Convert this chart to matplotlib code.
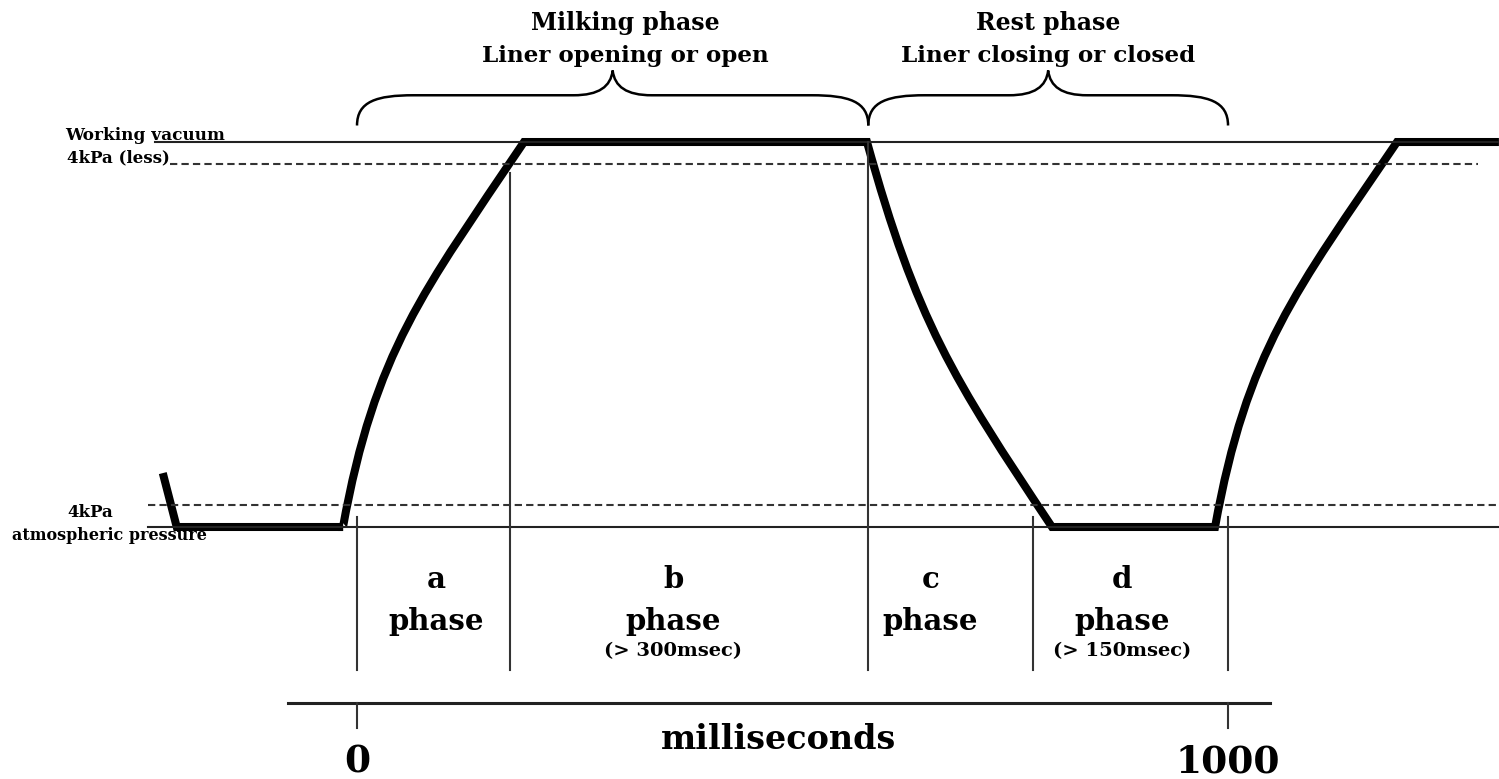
import numpy as np
import matplotlib
matplotlib.use("Agg")
import matplotlib.pyplot as plt
from matplotlib.path import Path
from matplotlib.patches import PathPatch

plt.rcParams['font.family'] = ['DejaVu Serif']
plt.rcParams['font.weight'] = 'bold'

# pulsation curve (time in ms, vacuum in kPa)
lead_ms = [-223, -207, -16]
lead_kpa = [9.8, 0, 0]
# each transition: start point, two bezier control points, end point
rise_a_ms = [-16.1, 20.7, 75.8, 191.7]
rise_a_kpa = [0, 32.0, 42.7, 70]
fall_c_ms = [585.5, 642.9, 683.1, 797.9]
fall_c_kpa = [70, 37.3, 27.3, 0]
rise_d_ms = [985.1, 1021.8, 1076.9, 1194.0]
rise_d_kpa = [0, 32.0, 42.7, 70]
end_ms = 1311

# reference levels
working_vacuum = 70
vacuum_less = 66
atm_plus = 4
atmospheric = 0

# phase boundaries (ms) and labels
bounds_ms = [0, 176, 587, 776, 1000]
bounds_top = [1.8, 64.4, 70, 1.8, 1.8]
phase_letters = ['a', 'b', 'c', 'd']
phase_x = [91, 363, 658, 878]
phase_notes = ['', '(> 300msec)', '', '(> 150msec)']

# braces over the cycle
brace_spans = [(0, 587), (587, 1000)]
brace_text_x = [308, 793]
brace_titles = ['Milking phase', 'Rest phase']
brace_subtitles = ['Liner opening or open', 'Liner closing or closed']

# time axis
axis_ms = (-79, 1048)
tick_ms = [0, 1000]
tick_labels = ['0', '1000']

fig = plt.figure(figsize=(14.99, 7.79), dpi=100)
ax = fig.add_axes([0, 0, 1, 1])
ax.set_xlim(-409.9, 1311.1)
ax.set_ylim(-45.82, 95.82)
ax.axis('off')

# level lines
ax.plot([-232, 1311], [working_vacuum] * 2, color='#222222', lw=1.5)
ax.plot([-215, 1287], [vacuum_less] * 2, color='#333333', lw=1.5, ls=(0, (3.5, 2)))
ax.plot([-240, 1311], [atm_plus] * 2, color='#333333', lw=1.5, ls=(0, (3.5, 2)))
ax.plot([-240, 1311], [atmospheric] * 2, color='#222222', lw=1.5)

# phase dividers
for xb, top in zip(bounds_ms, bounds_top):
    ax.plot([xb, xb], [top, -26], color='#333333', lw=1.5)

# the pressure curve: straight flats joined by bezier transitions
verts = list(zip(lead_ms, lead_kpa))
codes = [Path.MOVETO] + [Path.LINETO] * (len(lead_ms) - 1)
for xs, ys in [(rise_a_ms, rise_a_kpa), (fall_c_ms, fall_c_kpa), (rise_d_ms, rise_d_kpa)]:
    verts.append((xs[0], ys[0]))
    codes.append(Path.LINETO)
    verts += list(zip(xs[1:], ys[1:]))
    codes += [Path.CURVE4] * 3
verts.append((end_ms, working_vacuum))
codes.append(Path.LINETO)
ax.add_patch(PathPatch(Path(verts, codes), fill=False, lw=5.8, color='black',
                       joinstyle='miter', capstyle='butt'))

# left labels
ax.text(-335, 71.2, 'Working vacuum', fontsize=12.2, ha='left', va='center')
ax.text(-333, 67.2, '4kPa (less)', fontsize=12, ha='left', va='center')
ax.text(-306, 2.6, '4kPa', fontsize=12, ha='center', va='center')
ax.text(-284, -1.5, 'atmospheric pressure', fontsize=11.5, ha='center', va='center')

# phase labels
for xl, letter, note in zip(phase_x, phase_letters, phase_notes):
    ax.text(xl, -9.6, letter, fontsize=21, ha='center', va='center')
    ax.text(xl, -17.2, 'phase', fontsize=21, ha='center', va='center')
    if note:
        ax.text(xl, -22.5, note, fontsize=14, ha='center', va='center')


def brace(x0, x1, y_end=73, y_bar=78.5, y_tip=83, hook=65, tip_w=45):
    xm = (x0 + x1) / 2
    dy = y_tip - y_bar
    bv = [(x0, y_end),
          (x0, y_end + 0.8 * (y_bar - y_end)), (x0 + 0.35 * hook, y_bar), (x0 + hook, y_bar),
          (xm - tip_w, y_bar),
          (xm - 0.35 * tip_w, y_bar), (xm - 0.05 * tip_w, y_bar + 0.35 * dy), (xm, y_tip),
          (xm + 0.05 * tip_w, y_bar + 0.35 * dy), (xm + 0.35 * tip_w, y_bar), (xm + tip_w, y_bar),
          (x1 - hook, y_bar),
          (x1 - 0.35 * hook, y_bar), (x1, y_end + 0.8 * (y_bar - y_end)), (x1, y_end)]
    bc = [Path.MOVETO] + [Path.CURVE4] * 3 + [Path.LINETO] + [Path.CURVE4] * 6 \
        + [Path.LINETO] + [Path.CURVE4] * 3
    ax.add_patch(PathPatch(Path(bv, bc), fill=False, lw=1.8, color='black'))


for (x0, x1), xt, title, sub in zip(brace_spans, brace_text_x, brace_titles, brace_subtitles):
    brace(x0, x1)
    ax.text(xt, 91.6, title, fontsize=17, ha='center', va='center')
    ax.text(xt, 85.6, sub, fontsize=16.6, ha='center', va='center')

# time axis at the bottom
ax.plot(axis_ms, [-32, -32], color='#222222', lw=2.2)
for xt, lab in zip(tick_ms, tick_labels):
    ax.plot([xt, xt], [-32, -36.5], color='#333333', lw=1.5)
    ax.text(xt, -44.6, lab, fontsize=27, ha='center', va='baseline')
ax.text(484, -38.7, 'milliseconds', fontsize=24, ha='center', va='center')

fig.savefig('out.png', dpi=100)
